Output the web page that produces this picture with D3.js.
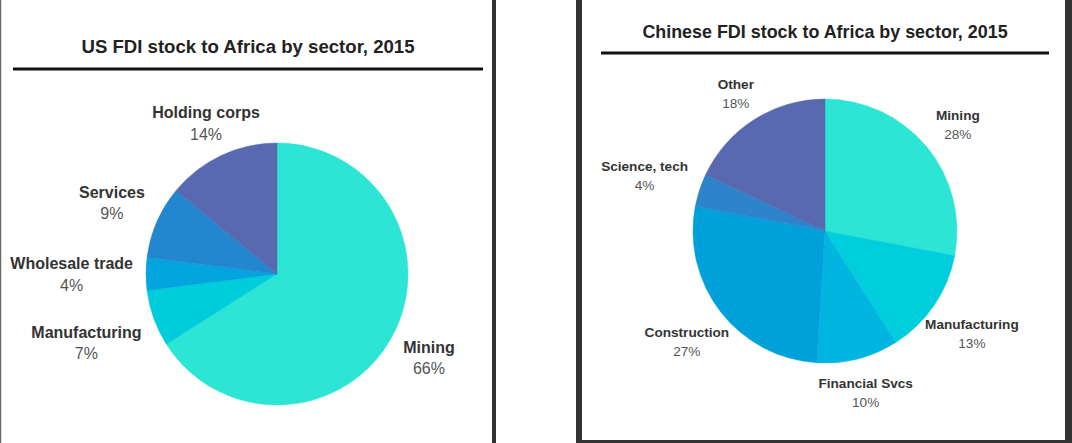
<!DOCTYPE html>
<html><head><meta charset="utf-8">
<script src="https://cdn.jsdelivr.net/npm/d3@7"></script>
<style>
html,body{margin:0;padding:0;background:#fff;}
svg{display:block;font-family:"Liberation Sans",Arial,Helvetica,sans-serif;}
</style></head>
<body>
<svg id="chart" width="1072" height="443"></svg>
<script>
// ---- data ----
const usTitle = "US FDI stock to Africa by sector, 2015";
const usSectors = ["Mining", "Manufacturing", "Wholesale trade", "Services", "Holding corps"];
const usShares = [66, 7, 4, 9, 14];
const usColors = ["#2de5d5", "#00cddc", "#03a5de", "#2387cf", "#5869b0"];

const cnTitle = "Chinese FDI stock to Africa by sector, 2015";
const cnSectors = ["Mining", "Manufacturing", "Financial Svcs", "Construction", "Science, tech", "Other"];
const cnShares = [28, 13, 10, 27, 4, 18];
const cnColors = ["#2de5d5", "#00cedc", "#00b6e0", "#00a1db", "#2d84cb", "#5869b0"];

const svg = d3.select("#chart");

// panel frames
svg.append("rect").attr("x",0).attr("y",0).attr("width",1072).attr("height",443).attr("fill","#fff");
svg.append("rect").attr("x",0).attr("y",0).attr("width",1.2).attr("height",443).attr("fill","#666");
svg.append("rect").attr("x",492).attr("y",0).attr("width",4).attr("height",443).attr("fill","#333");
svg.append("rect").attr("x",576).attr("y",0).attr("width",6).attr("height",443).attr("fill","#333");
svg.append("rect").attr("x",1065).attr("y",0).attr("width",7).attr("height",443).attr("fill","#333");
svg.append("rect").attr("x",576).attr("y",440).attr("width",496).attr("height",3).attr("fill","#333");

function drawPanel(cfg){
  const g = svg.append("g");
  // title
  g.append("text").attr("x", cfg.titleX).attr("y", cfg.titleY)
    .attr("text-anchor","middle").attr("font-weight","bold")
    .attr("font-size", cfg.titleSize).attr("fill","#222").text(cfg.title);
  g.append("line").attr("x1", cfg.ruleX1).attr("x2", cfg.ruleX2)
    .attr("y1", cfg.ruleY).attr("y2", cfg.ruleY)
    .attr("stroke","#111").attr("stroke-width",3);

  const data = cfg.sectors.map((s,i)=>({name:s, value:cfg.shares[i], color:cfg.colors[i]}));
  const pie = d3.pie().sort(null).value(d=>d.value);
  const arcs = pie(data);
  const arc = d3.arc().innerRadius(0).outerRadius(cfg.r);
  const pg = g.append("g").attr("transform", `translate(${cfg.cx},${cfg.cy})`);
  pg.selectAll("path").data(arcs).join("path")
    .attr("d", arc).attr("fill", d=>d.data.color)
    .attr("stroke", d=>d.data.color).attr("stroke-width",0.5);

  const fs = cfg.labelSize, gap = cfg.lineGap, cap = 0.72*fs;
  const h = cap + gap + cfg.pad;
  arcs.forEach(a=>{
    const mid = (a.startAngle + a.endAngle)/2;
    const s = Math.sin(mid), c = -Math.cos(mid);
    const lg = pg.append("g");
    const t1 = lg.append("text").attr("text-anchor","middle").attr("font-weight","bold")
      .attr("font-size", fs).attr("fill","#333").text(a.data.name);
    const t2 = lg.append("text").attr("text-anchor","middle")
      .attr("font-size", fs).attr("fill","#555").text(a.data.value + "%");
    const w = Math.max(t1.node().getComputedTextLength(), t2.node().getComputedTextLength());
    const ex = Math.abs(s) > 1e-6 ? (w/2)/Math.abs(s) : Infinity;
    const ey = Math.abs(c) > 1e-6 ? (h/2)/Math.abs(c) : Infinity;
    const D = cfg.r + cfg.labelGap + Math.min(ex, ey);
    const x = D*s, y = D*c;
    const base = y - (gap - cap)/2 + cfg.dy;
    t1.attr("x", x).attr("y", base);
    t2.attr("x", x).attr("y", base + gap);
  });
}

drawPanel({title: usTitle, titleX: 248, titleY: 53, titleSize: 18.6,
  ruleX1: 13, ruleX2: 483, ruleY: 69,
  sectors: usSectors, shares: usShares, colors: usColors,
  cx: 277, cy: 274, r: 131, labelSize: 16, lineGap: 21.5, pad: 8, labelGap: 13, dy: 0});

drawPanel({title: cnTitle, titleX: 825, titleY: 38, titleSize: 17.9,
  ruleX1: 601, ruleX2: 1049, ruleY: 53,
  sectors: cnSectors, shares: cnShares, colors: cnColors,
  cx: 825, cy: 231, r: 132, labelSize: 13.6, lineGap: 19, pad: 9, labelGap: 12, dy: 3});
</script>
</body></html>
